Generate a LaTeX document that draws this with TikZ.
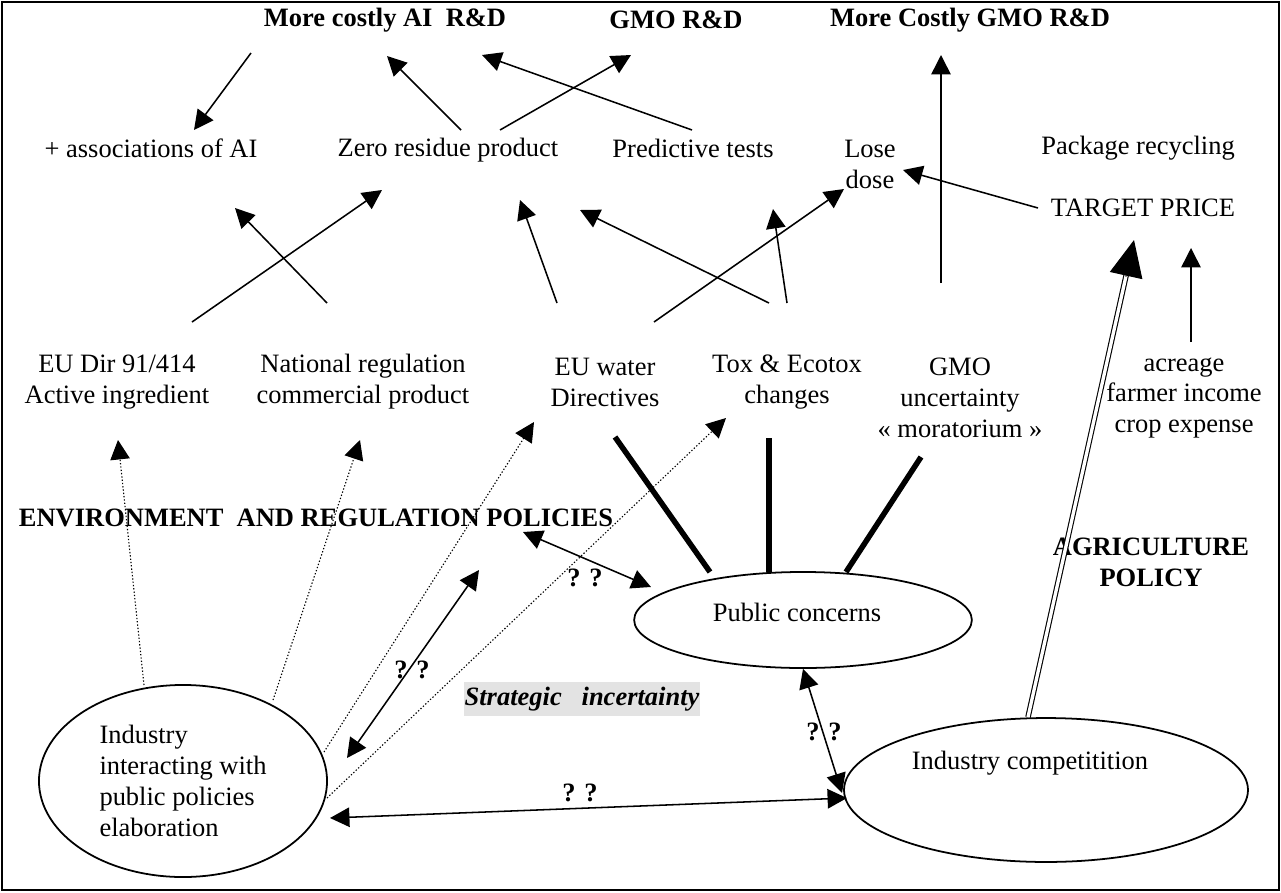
\documentclass[tikz,border=0pt]{standalone}
\usepackage{fontspec}
\setmainfont{Liberation Serif}
\usetikzlibrary{arrows.meta,calc,shapes.geometric}

\begin{document}
\begin{tikzpicture}[x=0.453pt,y=-0.453pt,>={Triangle[length=8.8pt,width=8.8pt]},
  every node/.style={inner sep=0pt,font=\fontsize{12}{14}\selectfont},
  txt/.style={align=center},
  hdr/.style={font=\fontsize{12}{14}\selectfont\bfseries},
  blob/.style={draw,ellipse,line width=0.8pt},
  arr/.style={->,line width=0.7pt},
  dots/.style={->,line width=0.5pt,dash pattern=on 0.6pt off 0.9pt},
  heavy/.style={line width=2.5pt},
  both/.style={<->,line width=0.7pt}]

	\useasboundingbox (0,0) rectangle (1281,892);
	\draw[line width=0.9pt] (2,2) rectangle (1279,890);

	% Top row
	\node [hdr] at (385,20) (aird) {More costly AI\ \ R\&D};
	\node [hdr] at (676,20) (gmord) {GMO R\&D};
	\node [hdr] at (970,20) (cgmo) {More Costly GMO R\&D};

	% Second row
	\node [txt] at (151,148) (assoc) {+ associations of AI};
	\node [txt] at (448,150) (zero) {Zero residue product};
	\node [txt] at (693,148) (pred) {Predictive tests};
	\node [txt] at (870,164) (lose) {Lose\\dose};
	\node [txt] at (1138,148) (pack) {Package recycling};
	\node [txt] at (1143,208) (target) {TARGET PRICE};

	% Third row
	\node [txt] at (117,382) (eudir) {EU Dir 91/414\\Active ingredient};
	\node [txt] at (363,382) (natreg) {National regulation\\commercial product};
	\node [txt] at (605,382) (water) {EU water\\Directives};
	\node [txt] at (787,382) (tox) {Tox \& Ecotox\\changes};
	\node [txt] at (960,398) (gmo) {GMO\\uncertainty\\« moratorium »};
	\node [txt] at (1184,398) (acre) {acreage\\farmer income\\crop expense};

	% Policies
	\node [hdr] at (316,518) (envpol) {ENVIRONMENT\ \ AND REGULATION POLICIES};
	\node [hdr,align=center] at (1151,562) (agri) {AGRICULTURE\\POLICY};
	\node [font=\fontsize{12}{14}\selectfont\bfseries\itshape,fill=black!11,
	       text height=9pt,text depth=3pt,inner xsep=0.5pt,inner ysep=1.5pt]
	       at (582,699) (strat) {Strategic\ \ \ incertainty};

	% Actors
	\node [blob,minimum width=153pt,minimum height=43.5pt] at (803,620) (pub) {};
	\node at (797,612) (pubTxt) {Public concerns};
	\node [blob,minimum width=130.5pt,minimum height=87pt,align=left] at (183,781) (indus)
	      {Industry\\interacting with\\public policies\\elaboration};
	\node [blob,minimum width=183pt,minimum height=65.2pt] at (1046,790) (comp) {};
	\node at (1030,763) (compTxt) {Industry competitition};

	% Upper edges
	\path[arr]
	($(aird)+(-134,33)$) edge ($(assoc)+(43,-18)$)
	($(zero)+(13,-20)$) edge ($(aird)+(2,36)$)
	($(zero)+(52,-20)$) edge ($(gmord)+(-45,35)$)
	($(pred)+(-1,-18)$) edge ($(aird)+(97,35)$)
	($(gmo)+(-19,-115)$) edge ($(cgmo)+(-29,35)$)
	($(target)+(-105,0)$) edge ($(lose)+(33,6)$)
	($(acre)+(7,-56)$) edge ($(target)+(48,40)$);

	% Middle edges
	\path[arr]
	($(eudir)+(75,-60)$) edge ($(zero)+(-66,40)$)
	($(natreg)+(-36,-79)$) edge ($(assoc)+(84,60)$)
	($(water)+(-48,-79)$) edge ($(zero)+(72,50)$)
	($(water)+(49,-60)$) edge ($(lose)+(-26,25)$)
	($(tox)+(-18,-79)$) edge ($(zero)+(132,60)$)
	($(tox)+(0,-79)$) edge ($(pred)+(80,61)$);

	% Public concerns links
	\path[heavy]
	($(water)+(10,55)$) edge ($(pub)+(-93,-48)$)
	($(tox)+(-18,56)$) edge ($(pub)+(-34,-48)$)
	($(gmo)+(-39,59)$) edge ($(pub)+(43,-48)$);

	% Industry lobbying
	\path[dots]
	($(indus)+(-39,-96)$) edge ($(eudir)+(1,58)$)
	($(indus)+(90,-81)$) edge ($(natreg)+(-3,58)$)
	($(indus)+(141,-29)$) edge ($(water)+(-71,40)$)
	($(indus)+(144,17)$) edge ($(tox)+(-61,36)$);

	% Interactions
	\path[both]
	($(envpol)+(207,14)$) edge ($(pub)+(-152,-33)$)
	($(envpol)+(163,52)$) edge ($(indus)+(164,-23)$)
	($(indus)+(147,37)$) edge ($(comp)+(-199,8)$)
	(pub.south) edge ($(comp)+(-204,3)$);

	\node [hdr] at (585,578) (q1) {? ?};
	\node [hdr] at (412,670) (q2) {? ?};
	\node [hdr] at (580,793) (q3) {? ?};
	\node [hdr] at (824,732) (q4) {? ?};

	% Agriculture policy arrow
	\coordinate (compTop) at ($(comp.north)+(-18,0)$);
	\coordinate (tgtTip) at ($(target)+(-9,32)$);
	\draw[line width=0.5pt,double,double distance=1.5pt,shorten >=14pt] (compTop) -- (tgtTip);
	\draw[-{Triangle[length=16.5pt,width=15pt]},line width=0.5pt] ($(tgtTip)!17pt!(compTop)$) -- (tgtTip);

\end{tikzpicture}
\end{document}
